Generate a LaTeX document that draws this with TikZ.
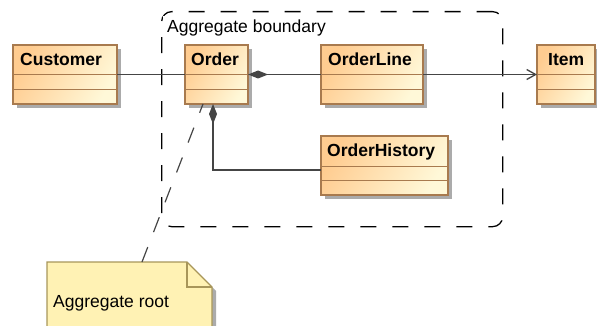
\documentclass[tikz,border=0pt]{standalone}
\usepackage{fontspec}
\setmainfont{Liberation Sans}
\usetikzlibrary{arrows.meta,shadows}
\definecolor{boxL}{HTML}{FFCC90}
\definecolor{boxR}{HTML}{FFF8D8}
\definecolor{boxB}{HTML}{A87A4E}
\definecolor{shadowC}{HTML}{ABABAB}
\definecolor{lineC}{HTML}{454545}
\definecolor{noteF}{HTML}{FFF2B4}
\definecolor{noteB}{HTML}{A8965A}
\begin{document}
\begin{tikzpicture}[x=1pt,y=-1pt,
  umlbox/.style={draw=boxB, line width=1.2pt, left color=boxL, right color=boxR, shading angle=60,
    inner sep=0pt, outer sep=0pt, anchor=north west, minimum height=59pt,
    drop shadow={shadow xshift=4pt, shadow yshift=-4pt, fill=shadowC, opacity=1}},
  divider/.style={draw=boxB, line width=1pt},
  boxtext/.style={font=\fontsize{17.5}{21}\selectfont\bfseries, inner sep=0pt, anchor=base west},
  plaintext/.style={font=\fontsize{17.5}{21}\selectfont, inner sep=0pt, anchor=base west},
  conn/.style={draw=lineC, line width=1.3pt},
  boundarybox/.style={draw=black, line width=1.3pt, dash pattern=on 16pt off 16pt, rounded corners=10pt,
    inner sep=0pt, anchor=north west},
  notedash/.style={draw=lineC, line width=1.2pt, dash pattern=on 16pt off 16pt}
]
\useasboundingbox (0,0) rectangle (597,326);

% aggregate boundary
\node[boundarybox, minimum width=341pt, minimum height=215pt] (boundary) at (161,11) {};
\node[plaintext, fill=white, inner xsep=4pt, inner ysep=4.5pt] (boundarylabel) at (163,33) {Aggregate boundary};

% classes
\foreach \name/\x/\y/\w/\pad/\txt in {customer/13/45/104/7/Customer, order/185/45/63/6/Order,
  orderline/321/45/102/7/OrderLine, item/537/45/58/11/Item, history/321/136/127/6/OrderHistory}{
  \node[umlbox, minimum width=\w pt] (\name) at (\x,\y) {};
  \draw[divider] ([yshift=-30pt]\name.north west) -- ([yshift=-30pt]\name.north east);
  \draw[divider] ([yshift=-44.5pt]\name.north west) -- ([yshift=-44.5pt]\name.north east);
  \node[boxtext] (\name-t) at ([xshift=\pad pt, yshift=-21pt]\name.north west) {\txt};
}

% connectors
\draw[conn] (customer.east) -- (order.west);
\draw[conn, {Diamond[length=20pt,width=8pt,fill=lineC]}-] (order.east) -- (orderline.west);
\draw[conn, -{Straight Barb[length=9pt,width=10pt]}] (orderline.east) -- (item.west);
\draw[conn, {Diamond[length=20pt,width=8pt,fill=lineC]}-] ([xshift=-3.5pt]order.south) |- ([yshift=-4.5pt]history.west);

% note
\coordinate (na) at (47,262);
\coordinate (nb) at (187,262);
\coordinate (nc) at (212,287);
\coordinate (nd) at (212,332);
\coordinate (ne) at (47,332);
\fill[shadowC] ([shift={(4pt,-4pt)}]nb) -- ([shift={(4pt,-4pt)}]nc) -- ([shift={(4pt,-4pt)}]nd) -- ([shift={(4pt,-4pt)}]ne) -- cycle;
\draw[draw=noteB, fill=noteF, line width=1.2pt] (na) -- (nb) -- (nc) -- (nd) -- (ne) -- cycle;
\draw[draw=noteB, line width=1.2pt] (nb) -- (187,287) -- (nc);
\node[plaintext] (notetext) at (53,307) {Aggregate root};
\coordinate (noteanchor) at (142,262);
\draw[notedash] (noteanchor) -- ([xshift=-13.5pt]order.south);
\end{tikzpicture}
\end{document}
